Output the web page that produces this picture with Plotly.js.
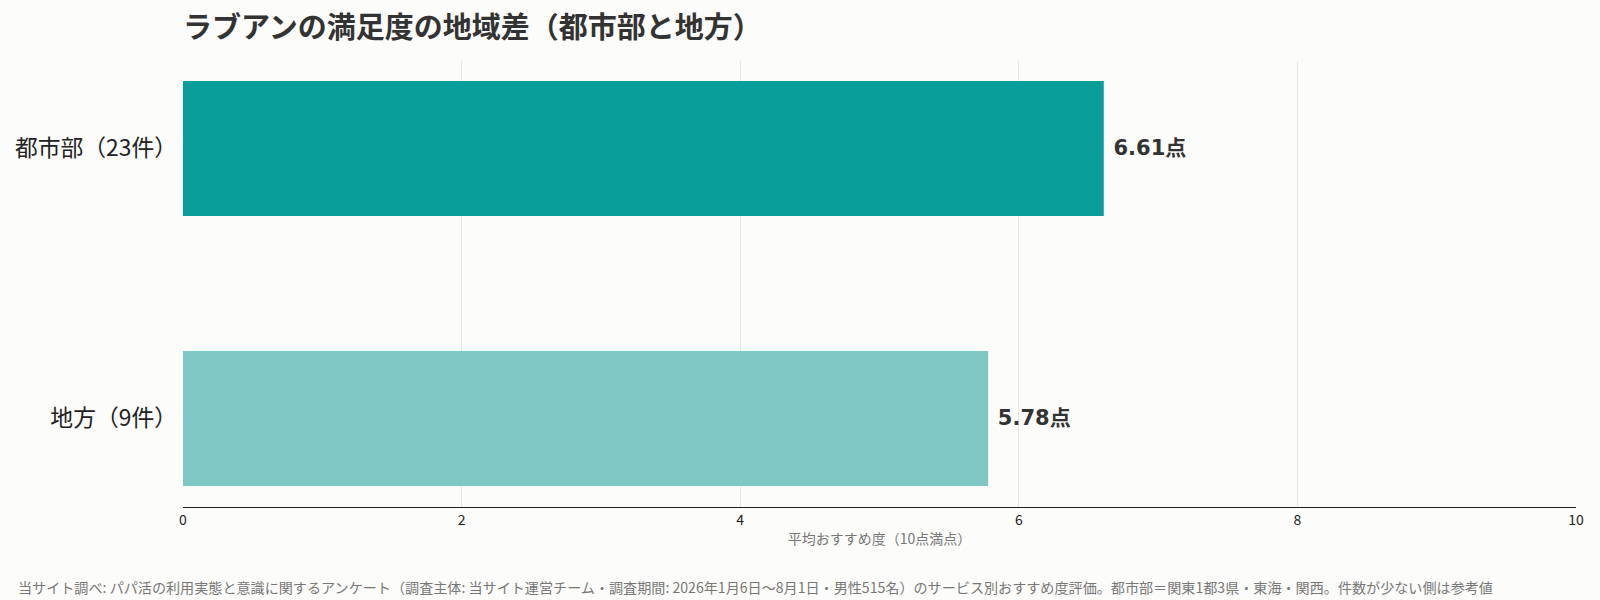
<!DOCTYPE html>
<html>
<head>
<meta charset="utf-8">
<script src="https://cdn.plot.ly/plotly-3.0.1.min.js"></script>
<style>
  html, body { margin: 0; padding: 0; background: #fcfcfa; }
  #chart { width: 1600px; height: 600px; }
</style>
</head>
<body>
<div id="chart"></div>
<script>
'use strict';

const regions = ["地方（9件）", "都市部（23件）"];
const scores = [5.78, 6.61];
const barColors = ["#7fc7c4", "#0a9e9b"];
const xTicks = [0, 2, 4, 6, 8, 10];

const font = "'Noto Sans CJK JP', 'Noto Sans', sans-serif";
const labelFont = "'DejaVu Sans', 'Noto Sans CJK JP', sans-serif";

const trace = {
  type: "bar",
  orientation: "h",
  x: scores,
  y: regions,
  width: 0.5,
  marker: { color: barColors },
  // leading no-break space gives the gap between bar end and label
  text: scores.map(v => "\u00a0<b>" + v.toFixed(2) + "点</b>"),
  textposition: "outside",
  textfont: { family: labelFont, size: 21, color: "#333333" },
  cliponaxis: false,
  hoverinfo: "skip"
};

const layout = {
  width: 1600,
  height: 600,
  paper_bgcolor: "#fcfcfa",
  plot_bgcolor: "#fcfcfa",
  margin: { l: 183, r: 24, t: 61, b: 93 },
  font: { family: font, color: "#333333" },
  showlegend: false,
  title: {
    text: "<b>ラブアンの満足度の地域差（都市部と地方）</b>",
    font: { family: font, size: 29, color: "#333333" },
    x: 0, xref: "paper", xanchor: "left",
    y: 1 - 28 / 600, yref: "container", yanchor: "middle"
  },
  xaxis: {
    range: [0, 10],
    tickvals: xTicks,
    ticktext: xTicks.map(String),
    tickfont: { family: font, size: 14, color: "#222222" },
    showgrid: true,
    gridcolor: "#e6e6e6",
    zeroline: false,
    showline: true,
    linecolor: "#222222",
    linewidth: 1,
    ticks: "",
    title: {
      text: "平均おすすめ度（10点満点）",
      font: { family: font, size: 14, color: "#777777" },
      standoff: 6
    }
  },
  yaxis: {
    type: "category",
    range: [-0.328, 1.324],
    tickfont: { family: font, size: 22.8, color: "#222222" },
    showgrid: false,
    zeroline: false,
    ticks: "",
    ticklabelstandoff: 5
  },
  annotations: [{
    text: "当サイト調べ: パパ活の利用実態と意識に関するアンケート（調査主体: 当サイト運営チーム・調査期間: 2026年1月6日〜8月1日・男性515名）のサービス別おすすめ度評価。都市部＝関東1都3県・東海・関西。件数が少ない側は参考値",
    xref: "paper", yref: "paper",
    x: -167 / 1393, y: -80 / 446,
    xanchor: "left", yanchor: "middle",
    showarrow: false,
    font: { family: font, size: 14.1, color: "#777777" }
  }]
};

Plotly.newPlot("chart", [trace], layout, { displayModeBar: false, responsive: false });
</script>
</body>
</html>
